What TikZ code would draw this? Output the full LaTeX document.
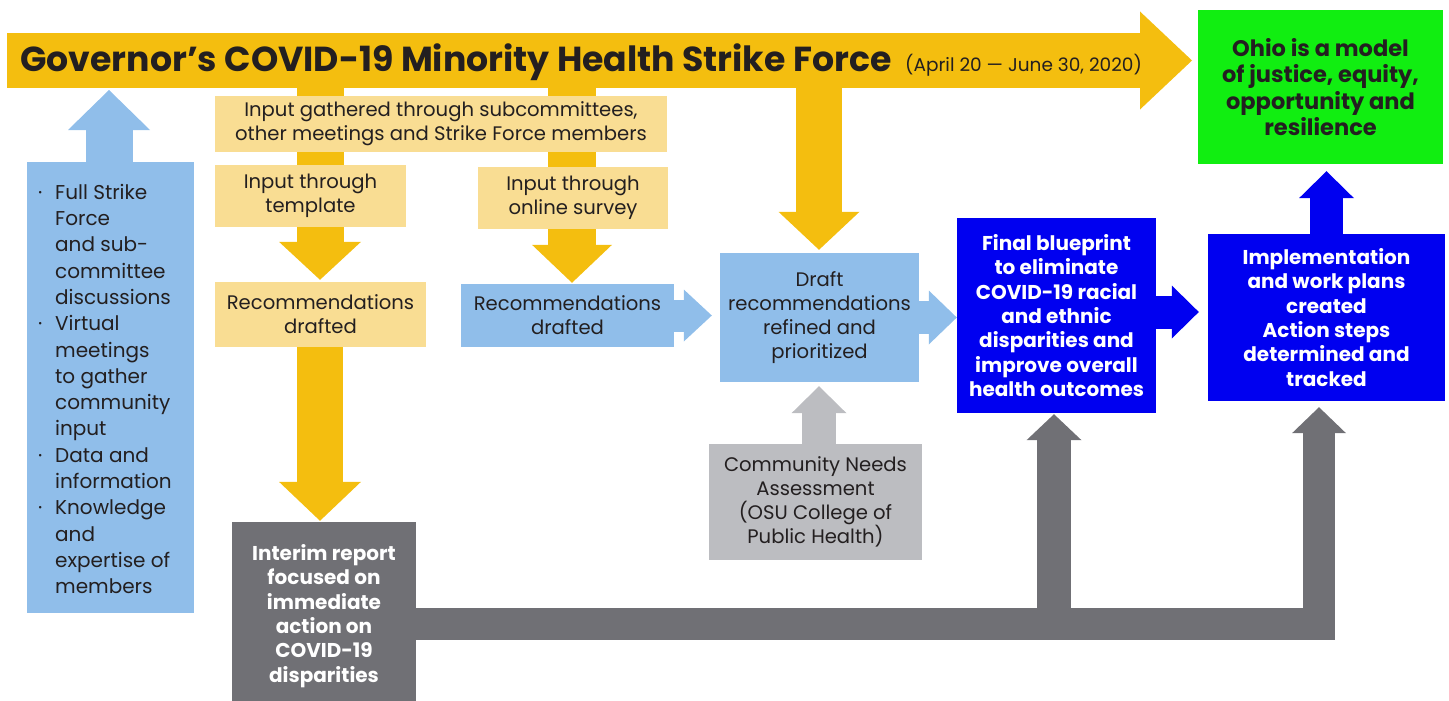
\documentclass[tikz,border=0pt]{standalone}
\usepackage{fontspec}
\setmainfont{Poppins}
\usetikzlibrary{arrows.meta}
\definecolor{cyel}{HTML}{F4BE0F}
\definecolor{clyel}{HTML}{F9DD93}
\definecolor{clblue}{HTML}{90BEEA}
\definecolor{cblue}{HTML}{0000F0}
\definecolor{cgreen}{HTML}{11EE11}
\definecolor{cdgray}{HTML}{707075}
\definecolor{clgray}{HTML}{BCBDC1}
\definecolor{ctext}{HTML}{231F20}
\pgfdeclarelayer{bg}
\pgfsetlayers{bg,main}
\newcommand{\bl}{\makebox[17pt][l]{\textperiodcentered}}
\newcommand{\ind}{\hspace*{17pt}}
\tikzset{
  box/.style n args={2}{inner sep=0pt, align=center, minimum width=#1, minimum height=#2, text=ctext, font=\fontsize{19.6}{24}\selectfont},
  boldbox/.style n args={2}{box={#1}{#2}, text=white, font=\bfseries\fontsize{20}{24.3}\selectfont},
  barrow/.style n args={3}{line width=#1, -{Triangle[width=#2,length=#3,line width=0pt]}},
}
\begin{document}
\begin{tikzpicture}[x=1pt,y=-1pt]
\useasboundingbox (0,0) rectangle (1449,701);

% nodes
\node[box={245}{154}, fill=cgreen, font=\bfseries\fontsize{22.5}{26.5}\selectfont] (green) at (1320.5,87)
  {Ohio is a model\\of justice, equity,\\opportunity and\\resilience};
\node[box={452}{56}, fill=clyel] (gather) at (441,124)
  {Input gathered through subcommittees,\\other meetings and Strike Force members};
\node[box={191}{62}, fill=clyel] (templ) at (310.5,196) {Input through\\template};
\node[box={190}{62}, fill=clyel] (survey) at (573,198) {Input through\\online survey};
\node[box={211}{65}, fill=clyel] (recy) at (320.5,314.5) {Recommendations\\drafted};
\node[box={213}{63}, fill=clblue] (recb) at (567.5,315.5) {Recommendations\\drafted};
\node[box={199}{129}, fill=clblue] (draft) at (819.5,317.5) {Draft\\recommendations\\refined and\\prioritized};
\node[box={213}{116}, fill=clgray] (cna) at (815.5,502) {Community Needs\\Assessment\\(OSU College of\\Public Health)};
\node[boldbox={199}{195}, fill=cblue] (final) at (1056.5,315.5)
  {Final blueprint\\to eliminate\\COVID-19 racial\\and ethnic\\disparities and\\improve overall\\health outcomes};
\node[boldbox={237}{167}, fill=cblue] (impl) at (1326.5,317.5)
  {Implementation\\and work plans\\created\\Action steps\\determined and\\tracked};
\node[boldbox={184}{188}, fill=cdgray] (interim) at (324,616)
  {Interim report\\focused on\\immediate\\action on\\COVID-19\\disparities};
\node[box={167}{451}, fill=clblue] (inputs) at (110.5,387.5) {};
\node[anchor=west, align=left, inner sep=0pt, text=ctext, font=\fontsize{20}{26.3}\selectfont] (inputstext) at (38,389)
  {\bl Full Strike\\\ind Force\\\ind and sub-\\\ind committee\\\ind discussions\\
   \bl Virtual\\\ind meetings\\\ind to gather\\\ind community\\\ind input\\
   \bl Data and\\\ind information\\
   \bl Knowledge\\\ind and\\\ind expertise of\\\ind members};

% coordinates
\coordinate (barstart) at (7,60.5);
\coordinate (bartip) at (1192,60.5);
\coordinate (ya) at (320,80);
\coordinate (yb) at (572,80);
\coordinate (yc) at (819,80);
\coordinate (jn) at (1054,623.5);

\begin{pgfonlayer}{bg}
\draw[cyel, barrow={55pt}{98pt}{52pt}] (barstart) -- (bartip);
\draw[cyel, barrow={47pt}{82pt}{38pt}, shorten >=2pt] (ya) -- (recy.north -| ya);
\draw[cyel, barrow={48pt}{80pt}{38pt}, shorten >=1pt] (yb) -- (recb.north -| yb);
\draw[cyel, barrow={46pt}{81pt}{38pt}, shorten >=3pt] (yc) -- (draft.north -| yc);
\draw[cyel, barrow={46pt}{82pt}{39pt}, shorten >=1pt] (recy.south -| ya) -- (interim.north -| ya);
\draw[clblue, barrow={47pt}{82pt}{40pt}] (inputs.north -| 109,0) -- (109,90);
\draw[clblue, barrow={32pt}{52pt}{28pt}, shorten >=8pt] (recb.east) -- (recb.east -| draft.west);
\draw[clblue, barrow={33pt}{54pt}{28pt}] (draft.east) -- (draft.east -| final.west);
\draw[cblue, barrow={33pt}{53pt}{27pt}, shorten >=9pt] (final.east |- 0,312) -- (impl.west |- 0,312);
\draw[cblue, barrow={33pt}{55pt}{27pt}, shorten >=7pt] (impl.north) -- (green.south -| impl.north);
\draw[clgray, barrow={34pt}{55pt}{27pt}, shorten >=4pt] (cna.north -| 819,0) -- (draft.south -| 819,0);
\draw[cdgray, barrow={32pt}{54pt}{26pt}, line join=miter, shorten >=6pt] (interim.east |- jn) -| (impl.south -| 1319,0);
\draw[cdgray, barrow={34pt}{55pt}{26pt}, shorten >=1pt] (jn) -- (final.south -| jn);
\end{pgfonlayer}

% title
\node[anchor=base west, inner sep=0pt, text=ctext, font=\bfseries\fontsize{34.7}{40}\selectfont] (title) at (20,72)
  {Governor’s COVID-19 Minority Health Strike Force};
\node[anchor=base west, inner sep=0pt, text=ctext, font=\fontsize{18.5}{20}\selectfont] (dates) at (905,72)
  {(April 20 — June 30, 2020)};
\end{tikzpicture}
\end{document}
